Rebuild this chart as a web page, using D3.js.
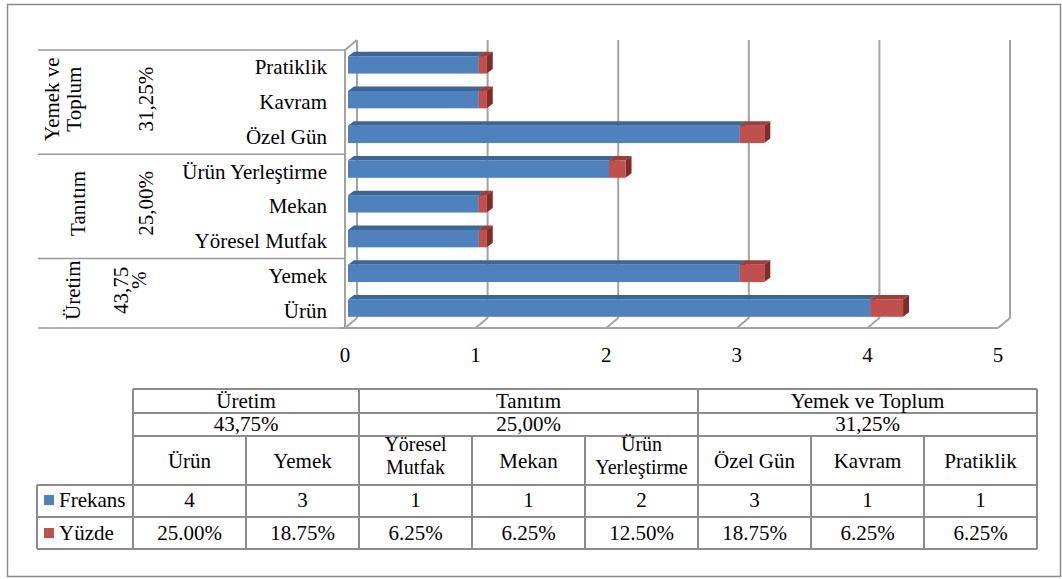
<!DOCTYPE html>
<html>
<head>
<meta charset="utf-8">
<script src="https://cdn.jsdelivr.net/npm/d3@7"></script>
</head>
<body style="margin:0;background:#fff">
<div id="chart"></div>
<script>
// categories, bottom to top as in the data table
const categories = ['Ürün', 'Yemek', 'Yöresel Mutfak', 'Mekan', 'Ürün Yerleştirme', 'Özel Gün', 'Kavram', 'Pratiklik'];
const tableLabels = [['Ürün'], ['Yemek'], ['Yöresel', 'Mutfak'], ['Mekan'], ['Ürün', 'Yerleştirme'], ['Özel Gün'], ['Kavram'], ['Pratiklik']];
const frekans = [4, 3, 1, 1, 2, 3, 1, 1];
const yuzde = [0.25, 0.1875, 0.0625, 0.0625, 0.125, 0.1875, 0.0625, 0.0625];

const groups = ['Üretim', 'Tanıtım', 'Yemek ve Toplum'];
const groupAxisLines = [['Üretim'], ['Tanıtım'], ['Yemek ve', 'Toplum']];
const groupShares = ['43,75%', '25,00%', '31,25%'];
const groupShareLines = [['43,75', '%'], ['25,00%'], ['31,25%']];
const groupSizes = [2, 3, 3];

const xTicks = [0, 1, 2, 3, 4, 5];
const seriesNames = ['Frekans', 'Yüzde'];

const colors = {
  blue: { front: '#4f81bd', top: '#3c6696', side: '#36597f' },
  red:  { front: '#c0504d', top: '#9e3e3b', side: '#7e2b29' }
};

const width = 1062;
const height = 579;
const depth = { dx: 12, dy: -10 };
const barOff = { dx: 3, dy: -2.5 };
const barDepth = { dx: 6, dy: -4.5 };
const grid = '#a3a3a3';
const line = '#8c8c8c';

const svg = d3.select('#chart')
  .append('svg')
    .attr('width', width)
    .attr('height', height)
    .style('display', 'block')
    .attr('font-family', '"Liberation Serif", "Times New Roman", Tinos, "DejaVu Serif", serif')
    .attr('font-size', 21)
    .attr('fill', '#000');

svg.append('rect')
    .attr('x', 7.5)
    .attr('y', 4.5)
    .attr('width', 1053)
    .attr('height', 572)
    .attr('fill', '#fff')
    .attr('stroke', '#8a8a8a')
    .attr('stroke-width', 1.5);

const x = d3.scaleLinear()
  .domain([0, 5])
  .range([345, 998]);

const y = d3.scaleBand()
  .domain(categories)
  .range([328, 50]);

const band = y.bandwidth();
const floorY = 328;
const topY = 50;

// --- walls & gridlines
const walls = svg.append('g')
    .attr('fill', 'none')
    .attr('stroke', grid)
    .attr('stroke-width', 2);

walls.selectAll('.back')
  .data(xTicks)
  .enter()
  .append('line')
    .attr('x1', d => x(d) + depth.dx)
    .attr('x2', d => x(d) + depth.dx)
    .attr('y1', floorY + depth.dy)
    .attr('y2', topY + depth.dy);

walls.selectAll('.diag')
  .data(xTicks)
  .enter()
  .append('line')
    .attr('x1', d => x(d))
    .attr('x2', d => x(d) + depth.dx)
    .attr('y1', floorY)
    .attr('y2', floorY + depth.dy);

walls.append('line')
    .attr('x1', x(0) - 5)
    .attr('x2', x(5))
    .attr('y1', floorY)
    .attr('y2', floorY);

walls.append('path')
    .attr('d', `M${x(0)},${floorY} V${topY} L${x(0) + depth.dx},${topY + depth.dy}`);

// --- 3D bars
function box(g, x0, x1, top, h, c) {
  g.append('path')
      .attr('fill', c.top)
      .attr('d', `M${x0},${top} L${x0 + barDepth.dx},${top + barDepth.dy} L${x1 + barDepth.dx},${top + barDepth.dy} L${x1},${top} Z`);
  g.append('path')
      .attr('fill', c.side)
      .attr('d', `M${x1},${top} L${x1 + barDepth.dx},${top + barDepth.dy} L${x1 + barDepth.dx},${top + h + barDepth.dy} L${x1},${top + h} Z`);
  g.append('rect')
      .attr('fill', c.front)
      .attr('x', x0)
      .attr('y', top)
      .attr('width', x1 - x0)
      .attr('height', h);
}

const bars = svg.append('g');
categories.slice().reverse().forEach(cat => {
  const i = categories.indexOf(cat);
  const top = y(cat) + band * 0.25 + barOff.dy;
  const h = band * 0.5;
  box(bars, x(0) + barOff.dx, x(frekans[i]) + barOff.dx, top, h, colors.blue);
  box(bars, x(frekans[i]) + barOff.dx, x(frekans[i] + yuzde[i]) + barOff.dx, top, h, colors.red);
});

// --- x tick labels
svg.selectAll('.tick-label')
  .data(xTicks)
  .enter()
  .append('text')
    .attr('x', d => x(d))
    .attr('y', 362)
    .attr('text-anchor', 'middle')
    .text(d => d);

// --- multi-level category axis
const axis = svg.append('g');

axis.selectAll('.cat')
  .data(categories)
  .enter()
  .append('text')
    .attr('x', 327)
    .attr('y', d => y(d) + band / 2)
    .attr('dy', '0.33em')
    .attr('text-anchor', 'end')
    .text(d => d);

const bounds = [];
let start = 0;
groupSizes.forEach(n => {
  const first = categories[start];
  const last = categories[start + n - 1];
  bounds.push([y(last), y(first) + band]);
  start += n;
});

axis.selectAll('.sep')
  .data([topY].concat(bounds.map(b => b[1])))
  .enter()
  .append('line')
    .attr('x1', 38)
    .attr('x2', x(0))
    .attr('y1', d => d)
    .attr('y2', d => d)
    .attr('stroke', '#9a9a9a')
    .attr('stroke-width', 1.5);

const nameBase = [[80], [85], [59, 81]];
const shareBase = [[128, 146], [153], [153]];

bounds.forEach((b, i) => {
  const cy = (b[0] + b[1]) / 2 - 3;
  groupAxisLines[i].forEach((t, j) => {
    axis.append('text')
        .attr('transform', `translate(${nameBase[i][j]},${cy}) rotate(-90)`)
        .attr('text-anchor', 'middle')
        .text(t);
  });
  groupShareLines[i].forEach((t, j) => {
    axis.append('text')
        .attr('transform', `translate(${shareBase[i][j]},${cy - (j === 1 ? 10 : 0)}) rotate(-90)`)
        .attr('text-anchor', 'middle')
        .text(t);
  });
});

// --- data table
const tx = 133;
const colW = 113;
const rows = [389, 413, 436, 485, 517, 549];
const tableRight = tx + colW * categories.length;
const table = svg.append('g');

const hLines = [
  [tx, rows[0]], [tx, rows[1]], [tx, rows[2]],
  [37, rows[3]], [37, rows[4]], [37, rows[5]]
];
table.selectAll('.h')
  .data(hLines)
  .enter()
  .append('line')
    .attr('x1', d => d[0])
    .attr('x2', tableRight)
    .attr('y1', d => d[1])
    .attr('y2', d => d[1]);

const groupEdges = [0];
groupSizes.reduce((acc, n) => { groupEdges.push(acc + n); return acc + n; }, 0);

const vLines = d3.range(categories.length + 1).map(i => ({
  x: tx + colW * i,
  y1: groupEdges.includes(i) ? rows[0] : rows[2]
}));
vLines.push({ x: 37, y1: rows[3] });

table.selectAll('.v')
  .data(vLines)
  .enter()
  .append('line')
    .attr('x1', d => d.x)
    .attr('x2', d => d.x)
    .attr('y1', d => d.y1)
    .attr('y2', rows[5]);

table.selectAll('line')
    .attr('stroke', line)
    .attr('stroke-width', 2);

groups.forEach((g, i) => {
  const cx = tx + colW * (groupEdges[i] + groupEdges[i + 1]) / 2;
  table.append('text')
      .attr('x', cx)
      .attr('y', 408)
      .attr('text-anchor', 'middle')
      .text(g);
  table.append('text')
      .attr('x', cx)
      .attr('y', 431)
      .attr('text-anchor', 'middle')
      .text(groupShares[i]);
});

tableLabels.forEach((lines, i) => {
  const cx = tx + colW * (i + 0.5);
  const wrapped = lines.length > 1;
  const base = wrapped ? [451, 474] : [468];
  lines.forEach((t, j) => {
    table.append('text')
        .attr('x', cx)
        .attr('y', base[j])
        .attr('text-anchor', 'middle')
        .attr('font-size', wrapped ? 20 : null)
        .text(t);
  });
  table.append('text')
      .attr('x', cx)
      .attr('y', 507)
      .attr('text-anchor', 'middle')
      .text(frekans[i]);
  table.append('text')
      .attr('x', cx)
      .attr('y', 540)
      .attr('text-anchor', 'middle')
      .text(d3.format('.2%')(yuzde[i]));
});

// legend keys inside the table
const legend = table.selectAll('.key')
  .data(seriesNames)
  .enter()
  .append('g')
    .attr('transform', (d, i) => `translate(44, ${i === 0 ? 495 : 528})`);

legend.append('rect')
    .attr('width', 10)
    .attr('height', 10)
    .attr('fill', (d, i) => i === 0 ? colors.blue.front : colors.red.front);

legend.append('text')
    .attr('x', 15)
    .attr('y', 5)
    .attr('dy', '0.35em')
    .text(d => d);
</script>
</body>
</html>
